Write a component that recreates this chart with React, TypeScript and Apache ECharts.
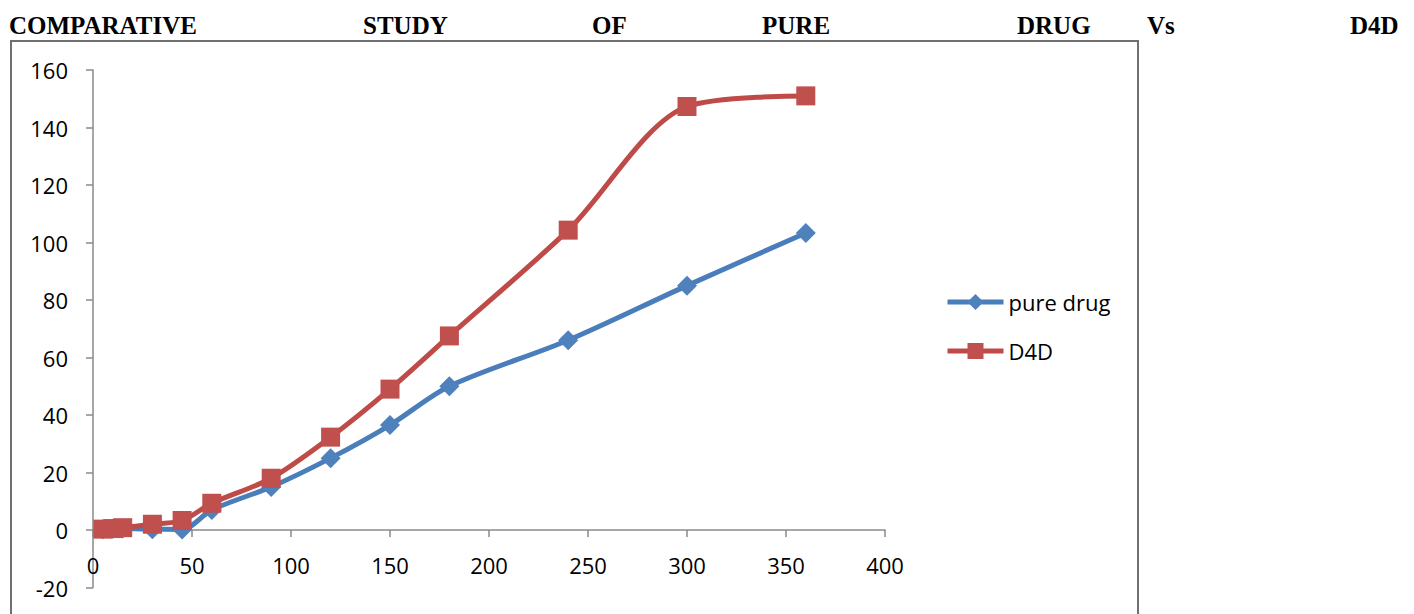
import React, { useEffect, useRef } from "react";
import * as echarts from "echarts";

const titleWords = ["COMPARATIVE", "STUDY", "OF", "PURE", "DRUG", "Vs", "D4D"];
const titleWordX = [9, 363, 592, 762, 1017, 1147, 1350];

const times = [5, 10, 15, 30, 45, 60, 90, 120, 150, 180, 240, 300, 360];
const pureDrug = [0.3, 0.4, 0.5, 0.3, 0.2, 7, 15, 25, 36.5, 50, 66, 85, 103.3];
const d4d = [0.3, 0.5, 0.8, 2, 3.3, 9.3, 18, 32.3, 49, 67.5, 104.3, 147.3, 151];

const seriesNames = ["pure drug", "D4D"];

const axisFont = "'Open Sans', 'Noto Sans', sans-serif";

export default function App() {
  const ref = useRef<HTMLDivElement>(null);

  useEffect(() => {
    if (!ref.current) return;
    const chart = echarts.init(ref.current, null, { renderer: "svg" });
    const toPairs = (ys: number[]) => times.map((t, i) => [t, ys[i]]);

    chart.setOption({
      animation: false,
      backgroundColor: "#ffffff",
      textStyle: { fontFamily: axisFont },
      graphic: [
        {
          type: "rect",
          shape: { x: 11, y: 41, width: 1127, height: 620 },
          style: { fill: "none", stroke: "#707070", lineWidth: 2 },
          z: -1,
        },
        ...titleWords.map((w, i) => ({
          type: "text",
          x: titleWordX[i],
          y: 25,
          style: {
            text: w,
            fill: "#000",
            font: "bold 25px 'Liberation Serif', 'Times New Roman', serif",
            verticalAlign: "middle",
            align: "left",
          },
        })),
      ],
      grid: {
        left: 93,
        right: 529,
        top: 70,
        bottom: 26.5,
        containLabel: false,
        outerBoundsMode: "none",
      },
      legend: {
        orient: "vertical",
        left: 940,
        top: 286,
        itemWidth: 56,
        itemHeight: 20,
        itemGap: 27,
        data: seriesNames,
        lineStyle: { width: 5 },
        textStyle: { fontSize: 22, color: "#000", fontFamily: axisFont },
      },
      xAxis: {
        type: "value",
        min: 0,
        max: 400,
        interval: 50,
        splitLine: { show: false },
        axisLine: { onZero: true, lineStyle: { color: "#8a8a8a", width: 1.5 } },
        axisTick: { show: true, length: 7, inside: false, lineStyle: { color: "#8a8a8a", width: 1.5 } },
        axisLabel: { fontSize: 22, color: "#000", margin: -34, fontFamily: axisFont },
      },
      yAxis: {
        type: "value",
        min: -20,
        max: 160,
        interval: 20,
        splitLine: { show: false },
        axisLine: { show: true, onZero: false, lineStyle: { color: "#8a8a8a", width: 1.5 } },
        axisTick: { show: true, length: 7, inside: false, lineStyle: { color: "#8a8a8a", width: 1.5 } },
        axisLabel: { fontSize: 22, color: "#000", margin: 25, fontFamily: axisFont },
      },
      series: [
        {
          name: seriesNames[0],
          type: "line",
          data: toPairs(pureDrug),
          smooth: 0.3,
          symbol: "diamond",
          symbolSize: 20,
          lineStyle: { color: "#4A7EBB", width: 5 },
          itemStyle: { color: "#4F81BD" },
          z: 2,
        },
        {
          name: seriesNames[1],
          type: "line",
          data: toPairs(d4d),
          smooth: 0.3,
          symbol: "rect",
          symbolSize: 19,
          lineStyle: { color: "#BE4B48", width: 5 },
          itemStyle: { color: "#C0504D" },
          z: 3,
        },
      ],
    });
    return () => chart.dispose();
  }, []);

  return (
    <div
      ref={ref}
      style={{ position: "absolute", left: 0, top: 0, width: 1414, height: 614 }}
    />
  );
}
